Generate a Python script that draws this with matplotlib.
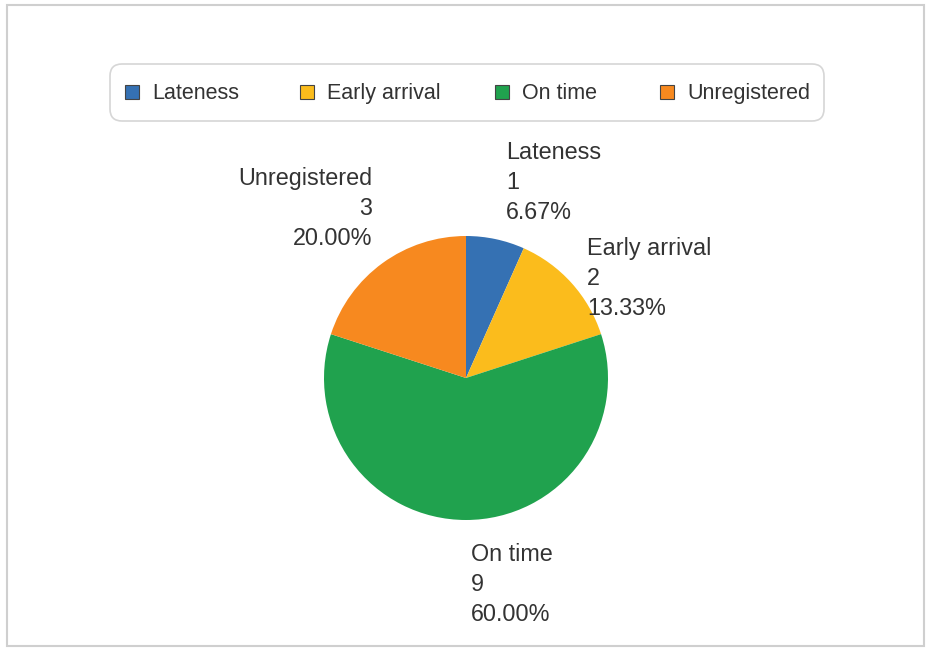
import matplotlib
matplotlib.use("Agg")
import matplotlib.pyplot as plt
from matplotlib.patches import Rectangle, FancyBboxPatch

categories = ["Lateness", "Early arrival", "On time", "Unregistered"]
counts = [1, 2, 9, 3]
colors = ["#3571b3", "#fbbc1c", "#20a24e", "#f7891f"]

W, H = 926, 649
plt.rcParams['font.family'] = ['Liberation Sans', 'DejaVu Sans']
fig = plt.figure(figsize=(W / 100, H / 100), dpi=100)
ax = fig.add_axes([0, 0, 1, 1])

def Y(py):
    return H - py

total = sum(counts)
cx, cy, r = 466, 378, 142
wedges, _ = ax.pie(counts, colors=colors, startangle=90, counterclock=False,
                   center=(cx, Y(cy)), radius=r, frame=True,
                   wedgeprops=dict(linewidth=0))
ax.set_xlim(0, W)
ax.set_ylim(0, H)
ax.set_aspect('equal')
ax.axis('off')

# outer frame
ax.add_patch(Rectangle((7, Y(646)), 917, 641, fill=False, ec="#cfcfcf", lw=1.5))

# data labels (layout positions)
label_pos = [(506, 141, 'left'), (587, 237, 'left'), (471, 543, 'left'), (372, 167, 'right')]
for (lx, ly, ha), name, c in zip(label_pos, categories, counts):
    pct = 100.0 * c / total
    txt = f"{name}\n{c}\n{pct:.2f}%"
    ax.text(lx, Y(ly), txt, ha=ha, va='top', fontsize=16.8, color="#333333",
            linespacing=1.4, multialignment=ha)

# legend box
ax.add_patch(FancyBboxPatch((110, Y(121)), 714, 57,
                            boxstyle="round,pad=0,rounding_size=12",
                            fc="white", ec="#d6d6d6", lw=1.2))
leg_x = [125, 300, 495, 660]
for lx, name, col in zip(leg_x, categories, colors):
    ax.add_patch(Rectangle((lx, Y(99)), 14, 14, fc=col, ec="#444444", lw=0.8))
    ax.text(lx + 27, Y(99), name, ha='left', va='baseline', fontsize=15.5, color="#333333")

fig.savefig("out.png", dpi=100)
